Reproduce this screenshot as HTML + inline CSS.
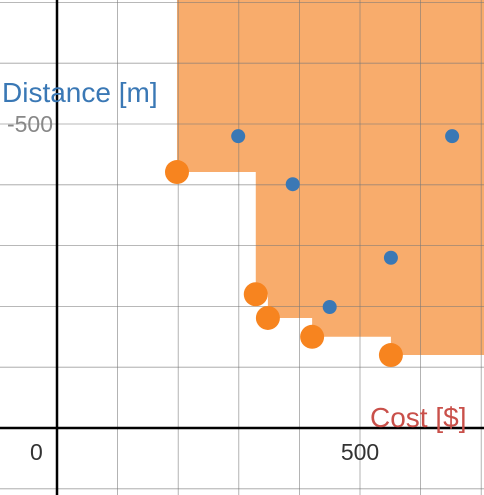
<!DOCTYPE html>
<html><head><meta charset="utf-8"><style>
html,body{margin:0;padding:0;background:#fff;width:484px;height:495px;overflow:hidden}
svg{display:block;font-family:"Liberation Sans",Arial,sans-serif}
</style></head><body>
<svg id="chart" width="484" height="495">
<path id="region" fill="#f7a35c" fill-opacity="0.9"></path>
<g id="grid"></g>
<g id="axes"></g>
<g id="marks"></g>
<text x="2" y="102" font-size="28" fill="#3a78b5">Distance [m]</text>
<text x="370" y="427" font-size="28" fill="#c9504a">Cost [$]</text>
</svg>
<script>
const paretoX=[198,328,348,421,551];
const paretoY=[421,220,181,150,120];
const otherX=[299,389,551,450,652];
const otherY=[480,401,280,199,480];
const xTicks=[0,500];
const yTicks=[500];
const sx=v=>57+v*0.606, sy=v=>428-v*0.608;
const ns="http://www.w3.org/2000/svg";
function mk(t,a,p){const e=document.createElementNS(ns,t);for(const k in a)e.setAttribute(k,a[k]);p.appendChild(e);return e;}
const grid=document.getElementById('grid');
for(let v=-100;v<=800;v+=100){const l=mk('line',{x1:sx(v),x2:sx(v),y1:0,y2:495,stroke:'#777','stroke-opacity':0.7,'stroke-width':0.8},grid);

}
for(let v=-100;v<=800;v+=100){const l=mk('line',{x1:0,x2:484,y1:sy(v),y2:sy(v),stroke:'#777','stroke-opacity':0.7,'stroke-width':0.8},grid);

}
let d=`M${sx(paretoX[0])},0`;
for(let i=0;i<paretoX.length;i++){
 d+=` L${sx(paretoX[i])},${sy(paretoY[i])}`;
 const nx=i+1<paretoX.length?sx(paretoX[i+1]):484;
 d+=` L${nx},${sy(paretoY[i])}`;
}
d+=` L484,0 Z`;
document.getElementById('region').setAttribute('d',d);
const axes=document.getElementById('axes');
let a=mk('line',{x1:sx(0),x2:sx(0),y1:0,y2:495,stroke:'#000','stroke-width':2.5},axes);


a=mk('line',{x1:0,x2:484,y1:sy(0),y2:sy(0),stroke:'#000','stroke-width':2.5},axes);


xTicks.forEach(v=>{const t=mk('text',{x:v===0?30:sx(v),y:460,'font-size':23,fill:'#333','text-anchor':v===0?'start':'middle'},axes);t.textContent=v;

});
yTicks.forEach(v=>{const t=mk('text',{x:53,y:sy(v)+8,'font-size':23,fill:'#888','text-anchor':'end'},axes);t.textContent='-'+v;

});
const marks=document.getElementById('marks');
otherX.forEach((v,i)=>{const c=mk('circle',{cx:sx(v),cy:sy(otherY[i]),r:7,fill:'#3a78b5'},marks);

});
paretoX.forEach((v,i)=>{const c=mk('circle',{cx:sx(v),cy:sy(paretoY[i]),r:12,fill:'#f7841f'},marks);

});
</script>
</body></html>
